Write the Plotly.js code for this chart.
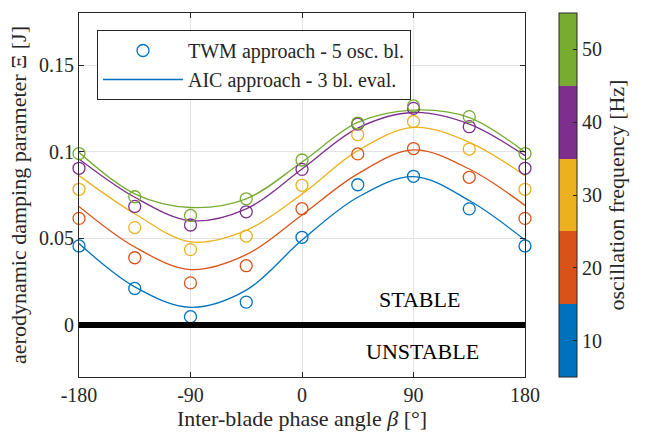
<!DOCTYPE html>
<html>
<head>
<meta charset="utf-8">
<script src="https://cdn.plot.ly/plotly-3.0.1.min.js"></script>
<style>html,body{margin:0;padding:0;background:#fff;}#chart{width:652px;height:433px;}</style>
</head>
<body>
<div id="chart"></div>
<script>
// Inter-blade phase angle (deg)
const beta = [-180, -135, -90, -45, 0, 45, 90, 135, 180];

// TWM approach (markers) per oscillation frequency
const twm10 = [0.0456, 0.0211, 0.0048, 0.0132, 0.0506, 0.0809, 0.0858, 0.0670, 0.0456];
const twm20 = [0.0615, 0.0388, 0.0243, 0.0342, 0.0671, 0.0987, 0.1018, 0.0852, 0.0615];
const twm30 = [0.0783, 0.0562, 0.0435, 0.0513, 0.0806, 0.1098, 0.1174, 0.1015, 0.0783];
const twm40 = [0.0904, 0.0684, 0.0577, 0.0653, 0.0898, 0.1159, 0.1250, 0.1144, 0.0904];
const twm50 = [0.0989, 0.0740, 0.0632, 0.0728, 0.0952, 0.1165, 0.1264, 0.1202, 0.0989];

// AIC approach (fitted curves) per oscillation frequency
const aic10 = [0.0470, 0.0220, 0.0102, 0.0201, 0.0490, 0.0737, 0.0856, 0.0718, 0.0490];
const aic20 = [0.0684, 0.0450, 0.0320, 0.0406, 0.0635, 0.0872, 0.1010, 0.0900, 0.0690];
const aic30 = [0.0862, 0.0642, 0.0480, 0.0546, 0.0755, 0.1006, 0.1140, 0.1054, 0.0862];
const aic40 = [0.0958, 0.0737, 0.0602, 0.0670, 0.0900, 0.1136, 0.1226, 0.1159, 0.0977];
const aic50 = [0.0996, 0.0757, 0.0678, 0.0728, 0.0940, 0.1169, 0.1240, 0.1197, 0.0996];

const freqs = [10, 20, 30, 40, 50];
const colors = ['#0072BD', '#D95319', '#EDB120', '#7E2F8E', '#77AC30'];
const twmSeries = [twm10, twm20, twm30, twm40, twm50];
const aicSeries = [aic10, aic20, aic30, aic40, aic50];

const xTickVals = [-180, -90, 0, 90, 180];
const xTickText = ['-180', '-90', '0', '90', '180'];
const yTickVals = [0, 0.05, 0.1, 0.15];
const yTickText = ['0', '0.05', '0.1', '0.15'];
const cbTickVals = [10, 20, 30, 40, 50];
const cbRange = [5, 55];
const stabilityLevel = 0;

const FONT = 'Liberation Serif, Times New Roman, serif';
const AX = '#262626';
const TICK = 20, LBL = 22, LEG = 20;

const traces = [];
for (let i = 0; i < freqs.length; i++) {
  traces.push({
    x: beta, y: aicSeries[i], type: 'scatter', mode: 'lines',
    line: {color: colors[i], width: 1.3, shape: 'spline', smoothing: 1},
    name: 'AIC approach - 3 bl. eval.', showlegend: i === 0, legendrank: 2,
    hoverinfo: 'skip'
  });
}
for (let i = 0; i < freqs.length; i++) {
  traces.push({
    x: beta, y: twmSeries[i], type: 'scatter', mode: 'markers',
    marker: {symbol: 'circle-open', size: 12, color: colors[i], line: {width: 1.3, color: colors[i]}},
    name: 'TWM approach - 5 osc. bl.', showlegend: i === 0, legendrank: 1,
    cliponaxis: false, hoverinfo: 'skip'
  });
}
// colorbar carrier
const cs = [];
for (let i = 0; i < colors.length; i++) {
  cs.push([i / colors.length, colors[i]]);
  cs.push([(i + 1) / colors.length, colors[i]]);
}
traces.push({
  x: [null], y: [null], type: 'scatter', mode: 'markers', showlegend: false, hoverinfo: 'skip',
  marker: {
    color: [freqs[0]], cmin: cbRange[0], cmax: cbRange[1], colorscale: cs, showscale: true,
    colorbar: {
      x: (559 - 79) / 446, xanchor: 'left', xpad: 0, ypad: 0,
      y: 0.5, yanchor: 'middle', len: 1, lenmode: 'fraction',
      thickness: 18, thicknessmode: 'pixels',
      outlinewidth: 1, outlinecolor: AX,
      tickvals: cbTickVals, ticks: 'inside', ticklen: 4, tickcolor: AX,
      tickfont: {family: FONT, size: TICK, color: AX},
      title: {text: 'oscillation frequency [Hz]', side: 'right', font: {family: FONT, size: LBL, color: AX}}
    }
  }
});

const layout = {
  width: 652, height: 433,
  margin: {l: 79, r: 127, t: 13, b: 56},
  paper_bgcolor: '#fff', plot_bgcolor: '#fff',
  font: {family: FONT, size: TICK, color: AX},
  showlegend: true,
  legend: {
    x: (97 - 79) / 446, y: (377 - 30) / 364, xanchor: 'left', yanchor: 'top',
    bgcolor: '#fff', bordercolor: AX, borderwidth: 1,
    font: {family: FONT, size: LEG, color: AX},
    itemwidth: 80, tracegroupgap: 0, traceorder: 'normal'
  },
  xaxis: {
    range: [-180, 180], tickvals: xTickVals, ticktext: xTickText,
    showgrid: true, gridcolor: '#e3e3e3', gridwidth: 1, zeroline: false,
    showline: true, linecolor: AX, linewidth: 1, mirror: 'ticks',
    ticks: 'inside', ticklen: 5, tickcolor: AX,
    tickfont: {family: FONT, size: TICK, color: AX},
    title: {text: 'Inter-blade phase angle <i>β</i> [°]', font: {family: FONT, size: LBL, color: AX}, standoff: 4}
  },
  yaxis: {
    range: [-0.03, 0.18], tickvals: yTickVals, ticktext: yTickText,
    showgrid: true, gridcolor: '#e3e3e3', gridwidth: 1, zeroline: false,
    showline: true, linecolor: AX, linewidth: 1, mirror: 'ticks',
    ticks: 'inside', ticklen: 5, tickcolor: AX,
    tickfont: {family: FONT, size: TICK, color: AX},
    title: {text: 'aerodynamic damping parameter Ξ [J]', font: {family: FONT, size: LBL, color: AX}, standoff: 6}
  },
  shapes: [{
    type: 'line', xref: 'x', yref: 'y', x0: -180, x1: 180, y0: stabilityLevel, y1: stabilityLevel,
    line: {color: '#000', width: 6}, layer: 'above'
  }],
  annotations: [
    {x: 95, y: 0.015, xref: 'x', yref: 'y', text: 'STABLE', showarrow: false, font: {family: FONT, size: LBL, color: '#000'}},
    {x: 97, y: -0.0153, xref: 'x', yref: 'y', text: 'UNSTABLE', showarrow: false, font: {family: FONT, size: LBL, color: '#000'}}
  ]
};

Plotly.newPlot('chart', traces, layout, {displayModeBar: false, staticPlot: true});
</script>
</body>
</html>
